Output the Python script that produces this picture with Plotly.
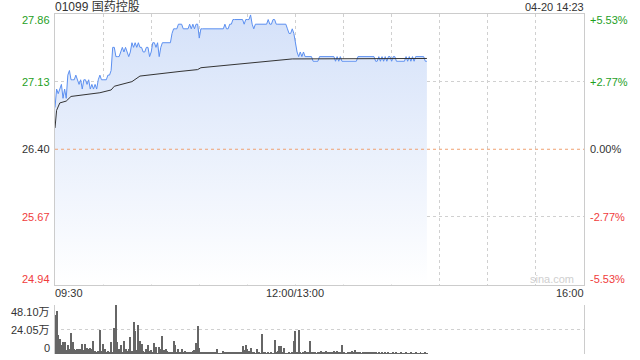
import plotly.graph_objects as go

# ---------------- data ----------------
title_text = "01099 国药控股"
stamp_text = "04-20 14:23"
prev_close = 26.40

price_ticks = [24.94, 25.67, 26.40, 27.13, 27.86]
price_tick_labels = ["24.94", "25.67", "26.40", "27.13", "27.86"]
pct_tick_labels = ["-5.53%", "-2.77%", "0.00%", "+2.77%", "+5.53%"]
tick_colors = ["#f03c3c", "#f03c3c", "#333333", "#1ea01e", "#1ea01e"]

time_ticks = [0, 150, 330]
time_labels = ["09:30", "12:00/13:00", "16:00"]

vol_ticks = [0, 24.05, 48.10]
vol_labels = ["0", "24.05万", "48.10万"]

# minute-by-minute last price (HKD)
prices = [
    26.85, 27.05, 27.00, 27.05, 27.10, 26.95, 27.05, 26.95, 27.20, 27.25,
    27.15, 27.15, 27.15, 27.20, 27.15, 27.10, 27.15, 27.05, 27.15, 27.15,
    27.10, 27.15, 27.05, 27.10, 27.05, 27.10, 27.05, 27.15, 27.20, 27.15,
    27.15, 27.15, 27.15, 27.20, 27.20, 27.25, 27.50, 27.50, 27.40, 27.40,
    27.40, 27.45, 27.50, 27.45, 27.50, 27.45, 27.40, 27.45, 27.55, 27.50,
    27.55, 27.50, 27.55, 27.50, 27.50, 27.45, 27.45, 27.50, 27.50, 27.40,
    27.45, 27.55, 27.55, 27.50, 27.55, 27.40, 27.50, 27.55, 27.55, 27.55,
    27.55, 27.55, 27.55, 27.65, 27.70, 27.70, 27.70, 27.75, 27.75, 27.75,
    27.70, 27.70, 27.70, 27.70, 27.75, 27.70, 27.75, 27.70, 27.75, 27.75,
    27.60, 27.70, 27.70, 27.70, 27.70, 27.70, 27.70, 27.70, 27.70, 27.70,
    27.70, 27.70, 27.70, 27.70, 27.70, 27.70, 27.75, 27.70, 27.70, 27.75,
    27.75, 27.80, 27.80, 27.80, 27.80, 27.80, 27.80, 27.80, 27.75, 27.80,
    27.80, 27.80, 27.85, 27.75, 27.70, 27.75, 27.75, 27.75, 27.75, 27.75,
    27.75, 27.75, 27.75, 27.80, 27.75, 27.75, 27.80, 27.80, 27.75, 27.75,
    27.75, 27.75, 27.75, 27.75, 27.75, 27.70, 27.65, 27.65, 27.70, 27.65,
    27.55, 27.45, 27.40, 27.45, 27.40, 27.45, 27.40, 27.40, 27.40, 27.40,
    27.40, 27.35, 27.35, 27.35, 27.35, 27.40, 27.40, 27.40, 27.40, 27.40,
    27.40, 27.40, 27.40, 27.40, 27.40, 27.35, 27.40, 27.35, 27.40, 27.35,
    27.35, 27.35, 27.35, 27.35, 27.35, 27.35, 27.35, 27.35, 27.35, 27.40,
    27.40, 27.40, 27.40, 27.40, 27.40, 27.40, 27.40, 27.40, 27.40, 27.40,
    27.35, 27.35, 27.40, 27.35, 27.40, 27.35, 27.40, 27.35, 27.40, 27.40,
    27.35, 27.40, 27.40, 27.35, 27.35, 27.35, 27.35, 27.35, 27.35, 27.40,
    27.35, 27.40, 27.35, 27.40, 27.35, 27.40, 27.40, 27.40, 27.40, 27.40,
    27.40, 27.35, 27.35,
]

# average price line, read at its bends
avg_minutes = [0, 1, 3, 7, 10, 28, 35, 37, 48, 53, 78, 89, 91, 120, 148, 232]
avg_prices = [26.63, 26.82, 26.90, 26.92, 26.97, 27.01, 27.04, 27.08, 27.13,
              27.19, 27.24, 27.26, 27.28, 27.33, 27.375, 27.38]

# minute volume, in 万 shares
volumes = [
    38.3, 42.2, 18.8, 15.0, 9.0, 11.7, 11.7, 3.6, 9.0, 5.0,
    20.5, 11.7, 4.5, 3.6, 5.0, 4.5, 5.0, 10.3, 3.6, 10.0,
    5.7, 4.5, 5.7, 4.5, 13.0, 2.6, 1.3, 3.0, 23.7, 2.6,
    10.0, 4.5, 1.9, 2.6, 1.9, 12.0, 1.6, 25.6, 48.1, 11.3,
    5.0, 9.0, 2.0, 13.0, 4.5, 2.6, 4.5, 16.6, 3.0, 31.8,
    23.0, 4.0, 28.6, 12.4, 10.3, 2.6, 1.0, 5.0, 9.0, 2.6,
    3.6, 1.0, 11.0, 7.0, 0.5, 7.0, 4.5, 17.9, 3.6, 4.5,
    2.6, 1.9, 1.0, 1.6, 13.0, 9.0, 1.0, 5.0, 1.0, 5.0,
    1.0, 2.6, 1.9, 1.9, 1.0, 1.0, 2.6, 3.6, 10.7, 27.0,
    6.0, 1.9, 1.0, 1.0, 1.9, 1.0, 1.9, 1.0, 1.9, 1.0,
    1.0, 4.5, 0.5, 0.5, 0.5, 2.6, 1.0, 1.9, 1.0, 1.0,
    1.0, 1.0, 1.0, 1.9, 1.0, 1.0, 1.0, 7.4, 3.6, 9.0,
    4.5, 2.6, 6.0, 1.0, 1.0, 0.5, 4.5, 1.0, 0.5, 19.8,
    1.0, 1.0, 0.5, 1.0, 0.5, 1.9, 0.5, 14.0, 1.0, 2.6,
    8.3, 8.3, 1.0, 6.0, 0.5, 0.5, 1.0, 0.5, 1.0, 12.3,
    23.0, 1.9, 23.7, 1.5, 0.5, 1.0, 2.5, 1.0, 1.0, 13.0,
    1.0, 1.5, 1.5, 0.5, 1.5, 1.0, 2.5, 1.5, 1.0, 2.5,
    1.0, 1.0, 2.0, 1.0, 2.5, 1.5, 2.5, 1.0, 1.0, 9.0,
    1.0, 0.5, 0.3, 1.0, 2.0, 2.5, 1.0, 3.5, 1.5, 1.0,
    1.0, 0.5, 1.0, 1.5, 2.0, 1.0, 1.0, 2.0, 1.0, 1.5,
    1.0, 0.8, 1.2, 0.6, 1.0, 0.8, 1.2, 0.5, 1.0, 0.8,
    0.6, 1.0, 0.8, 1.2, 0.5, 0.8, 1.0, 0.6, 0.8, 1.0,
    0.5, 0.8, 1.0, 0.6, 0.8, 1.2, 0.5, 0.8, 1.0, 0.6,
    0.8, 1.0, 0.8,
]

minutes = list(range(len(prices)))
SESSION_MIN = 330

# ---------------- figure ----------------
FONT = "Liberation Sans, Arial, Noto Sans CJK SC, sans-serif"
TXT = "#333333"
GRID = "#d0d0d0"
BORDER = "#cccccc"

fig = go.Figure()

fig.add_trace(go.Scatter(
    x=minutes, y=prices, mode="lines",
    line=dict(color="#5b8ff0", width=1),
    fill="tozeroy",
    fillgradient=dict(type="vertical",
                      colorscale=[[0, "#ffffff"], [1, "#d4e1f9"]],
                      start=price_ticks[0], stop=price_ticks[-1]),
    xaxis="x", yaxis="y", hoverinfo="skip"))

fig.add_trace(go.Scatter(
    x=avg_minutes, y=avg_prices, mode="lines",
    line=dict(color="#333333", width=1),
    xaxis="x", yaxis="y", hoverinfo="skip"))

fig.add_trace(go.Bar(
    x=minutes, y=volumes, width=0.6,
    marker=dict(color="#666666", line=dict(width=0)),
    xaxis="x2", yaxis="y2", hoverinfo="skip"))

main_dom = [(354 - 284.5) / 340, 1]
vol_dom = [0, (354 - 305) / 340]

fig.update_layout(
    width=640, height=360,
    margin=dict(l=55, r=56, t=14, b=6),
    paper_bgcolor="white", plot_bgcolor="white",
    showlegend=False, bargap=0,
    font=dict(family=FONT, size=11, color=TXT),
    xaxis=dict(domain=[0, 1], range=[0, SESSION_MIN], anchor="y",
               tickvals=list(range(0, SESSION_MIN + 1, 30)),
               showticklabels=False, ticks="",
               showgrid=True, gridcolor=GRID, griddash="dot", gridwidth=1,
               showline=True, mirror=True, linecolor=BORDER, linewidth=1,
               zeroline=False, fixedrange=True),
    yaxis=dict(domain=main_dom, range=[price_ticks[0], price_ticks[-1]],
               anchor="x", tickvals=[price_ticks[1], price_ticks[3]],
               showticklabels=False, ticks="",
               showgrid=True, gridcolor=GRID, griddash="dot", gridwidth=1,
               showline=True, mirror=True, linecolor=BORDER, linewidth=1,
               zeroline=False),
    xaxis2=dict(domain=[0, 1], range=[0, SESSION_MIN], anchor="y2",
                showticklabels=False, ticks="", showgrid=False,
                showline=False, zeroline=False),
    yaxis2=dict(domain=vol_dom, range=[0, vol_ticks[-1]], anchor="x2",
                tickvals=vol_ticks, showticklabels=False, ticks="",
                showgrid=True, gridcolor=GRID, griddash="dot", gridwidth=1,
                showline=True, mirror=True, linecolor=BORDER, linewidth=1,
                zeroline=False),
)

# previous close dashed line
fig.add_shape(type="line", xref="x", yref="y",
              x0=0, x1=SESSION_MIN, y0=prev_close, y1=prev_close,
              line=dict(color="#f0a070", width=1, dash="3px,3px"))

ann = []
# price labels (left) and percent labels (right)
for i, (v, lab, pct, col) in enumerate(zip(price_ticks, price_tick_labels,
                                            pct_tick_labels, tick_colors)):
    ys = 0
    if i == 0:
        ys = 6
    elif i == len(price_ticks) - 1:
        ys = -6
    ann.append(dict(x=0, xref="paper", y=v, yref="y", text=lab,
                    xanchor="right", yanchor="middle", xshift=-3, yshift=ys,
                    showarrow=False, font=dict(color=col, size=11)))
    ann.append(dict(x=1, xref="paper", y=v, yref="y", text=pct,
                    xanchor="left", yanchor="middle", xshift=4, yshift=ys,
                    showarrow=False, font=dict(color=col, size=11)))

# volume labels
for i, (v, lab) in enumerate(zip(vol_ticks, vol_labels)):
    ys = 0
    if i == 0:
        ys = 6
    elif i == len(vol_ticks) - 1:
        ys = -7
    ann.append(dict(x=0, xref="paper", y=v, yref="y2", text=lab,
                    xanchor="right", yanchor="middle", xshift=-3, yshift=ys,
                    showarrow=False, font=dict(color=TXT, size=11)))

# time labels between panels
time_y = (354 - 293) / 340
anchors = ["left", "center", "right"]
for t, lab, a in zip(time_ticks, time_labels, anchors):
    ann.append(dict(x=t, xref="x", y=time_y, yref="paper", text=lab,
                    xanchor=a, yanchor="middle", showarrow=False,
                    xshift=-2 if a == "left" else (2 if a == "right" else 0),
                    font=dict(color=TXT, size=11)))

# title and timestamp
title_y = (354 - 7) / 340
ann.append(dict(x=0, xref="paper", y=title_y, yref="paper", text=title_text,
                xanchor="left", yanchor="middle", xshift=-2, showarrow=False,
                font=dict(color=TXT, size=12)))
ann.append(dict(x=1, xref="paper", y=title_y, yref="paper", text=stamp_text,
                xanchor="right", yanchor="middle", xshift=2, showarrow=False,
                font=dict(color=TXT, size=11)))

# watermark
ann.append(dict(x=0.94, xref="paper", y=price_ticks[0], yref="y",
                text="sina.com", xanchor="center", yanchor="middle",
                yshift=6, showarrow=False,
                font=dict(color="#cfcfcf", size=11)))

fig.update_layout(annotations=ann)

fig.write_html("out.html")
